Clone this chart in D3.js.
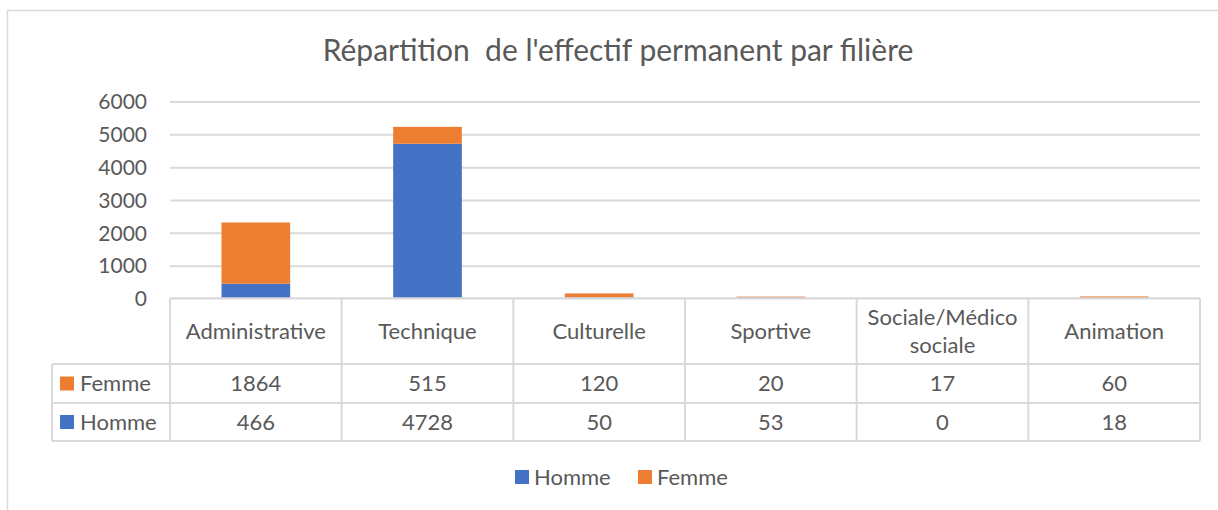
<!DOCTYPE html>
<html>
<head>
<meta charset="utf-8">
<script src="https://cdn.jsdelivr.net/npm/d3@7"></script>
<style>
  html, body { margin: 0; padding: 0; background: #fff; }
  svg { display: block; }
  text { font-family: Lato, "Open Sans", sans-serif; fill: #595959; }
</style>
</head>
<body>
<svg id="chart" width="1218" height="510"></svg>
<script>
// Effectif permanent par filière, ventilé par sexe
const categories = ["Administrative", "Technique", "Culturelle", "Sportive", "Sociale/Médico sociale", "Animation"];
const categoryLines = [["Administrative"], ["Technique"], ["Culturelle"], ["Sportive"], ["Sociale/Médico", "sociale"], ["Animation"]];
const homme = [466, 4728, 50, 53, 0, 18];
const femme = [1864, 515, 120, 20, 17, 60];
const seriesNames = ["Homme", "Femme"];
const yTicks = [0, 1000, 2000, 3000, 4000, 5000, 6000];
const title = "Répartition\u00A0 de l'effectif permanent par filière";

const colors = { Homme: "#4472C4", Femme: "#ED7D31" };
const gridColor = "#d9d9d9";
const tableFont = "22px";

const svg = d3.select("#chart");

// chart frame (extends past the right and bottom edges)
svg.append("rect")
  .attr("x", 7.5).attr("y", 10.5)
  .attr("width", 1240).attr("height", 540)
  .attr("fill", "none").attr("stroke", gridColor).attr("stroke-width", 1.5);

// title
svg.append("text")
  .attr("x", 618).attr("y", 61)
  .attr("text-anchor", "middle")
  .style("font-size", "30px")
  .text(title);

const plot = { left: 170, right: 1200, top: 102, bottom: 299 };

const x = d3.scaleBand().domain(categories).range([plot.left, plot.right]).padding(0);
const y = d3.scaleLinear().domain([0, 6000]).range([plot.bottom, plot.top]);

// gridlines
svg.append("g").selectAll("line").data(yTicks.filter(t => t > 0)).join("line")
  .attr("x1", plot.left).attr("x2", plot.right)
  .attr("y1", d => y(d)).attr("y2", d => y(d))
  .attr("stroke", gridColor).attr("stroke-width", 2);

// y axis labels
const yAxis = d3.axisLeft(y).tickValues(yTicks).tickSize(0).tickPadding(0).tickFormat(d3.format("d"));
const yAxisG = svg.append("g").attr("transform", `translate(${plot.left - 23},0)`).call(yAxis);
yAxisG.select(".domain").remove();
yAxisG.selectAll("text")
  .style("font-family", "Lato, 'Open Sans', sans-serif")
  .style("font-size", "21px")
  .attr("fill", "#595959");

// stacked bars
const rows = categories.map((c, i) => ({ cat: c, Homme: homme[i], Femme: femme[i] }));
const stack = d3.stack().keys(seriesNames)(rows);
const barW = x.bandwidth() * 0.4;
svg.append("g").selectAll("g").data(stack).join("g")
  .attr("fill", d => colors[d.key])
  .selectAll("rect").data(d => d).join("rect")
  .attr("x", d => x(d.data.cat) + (x.bandwidth() - barW) / 2)
  .attr("width", barW)
  .attr("y", d => y(d[1]))
  .attr("height", d => y(d[0]) - y(d[1]));

// data table (its top edge doubles as the category axis, drawn over the bars)
const rowTop = 298.3, headerBottom = 364, femmeBottom = 403, hommeBottom = 441;
const tableLeft = 52;
const table = svg.append("g").attr("stroke", gridColor).attr("stroke-width", 2);
table.append("line").attr("x1", plot.left).attr("x2", plot.right).attr("y1", rowTop).attr("y2", rowTop)
  .attr("stroke-width", 2.2);
[headerBottom, femmeBottom, hommeBottom].forEach(yy => {
  table.append("line").attr("x1", tableLeft).attr("x2", plot.right).attr("y1", yy).attr("y2", yy);
});
const colEdges = categories.map(c => x(c)).concat([plot.right]);
colEdges.forEach(xx => {
  table.append("line").attr("x1", xx).attr("x2", xx).attr("y1", rowTop).attr("y2", hommeBottom);
});
table.append("line").attr("x1", tableLeft).attr("x2", tableLeft).attr("y1", headerBottom).attr("y2", hommeBottom);

// header cells
const header = svg.append("g").style("font-size", tableFont);
categories.forEach((c, i) => {
  const lines = categoryLines[i];
  const cx = x(c) + x.bandwidth() / 2;
  const mid = (298 + headerBottom) / 2;
  const lh = 28;
  lines.forEach((ln, j) => {
    header.append("text")
      .attr("x", cx)
      .attr("y", mid + 7.5 + (j - (lines.length - 1) / 2) * lh)
      .attr("text-anchor", "middle")
      .text(ln);
  });
});

// value rows
const tableRows = [
  { name: "Femme", values: femme, top: headerBottom, bottom: femmeBottom },
  { name: "Homme", values: homme, top: femmeBottom, bottom: hommeBottom }
];
const body = svg.append("g").style("font-size", tableFont);
tableRows.forEach(r => {
  const mid = (r.top + r.bottom) / 2;
  body.append("rect")
    .attr("x", 60).attr("y", mid - 7).attr("width", 14).attr("height", 14)
    .attr("fill", colors[r.name]);
  body.append("text").attr("x", 80).attr("y", mid + 7.5).text(r.name);
  categories.forEach((c, i) => {
    body.append("text")
      .attr("x", x(c) + x.bandwidth() / 2)
      .attr("y", mid + 7.5)
      .attr("text-anchor", "middle")
      .text(r.values[i]);
  });
});

// legend
const legend = svg.append("g").style("font-size", tableFont);
const legendItems = [{ name: "Homme", x: 515 }, { name: "Femme", x: 638 }];
legendItems.forEach(it => {
  legend.append("rect").attr("x", it.x).attr("y", 470).attr("width", 14).attr("height", 14).attr("fill", colors[it.name]);
  legend.append("text").attr("x", it.x + 19).attr("y", 484.5).text(it.name);
});
</script>
</body>
</html>
